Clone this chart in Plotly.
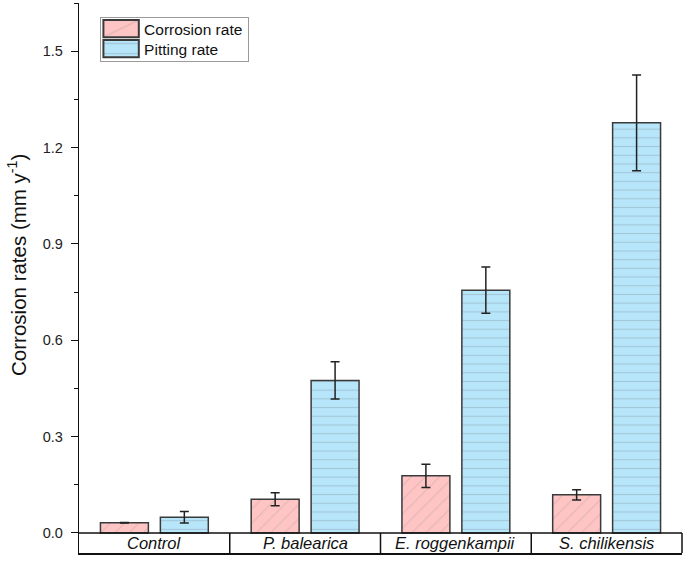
import plotly.graph_objects as go

categories = ["Control", "P. balearica", "E. roggenkampii", "S. chilikensis"]
corrosion_rate = [0.032, 0.105, 0.178, 0.119]
corrosion_err = [0.001, 0.020, 0.036, 0.016]
pitting_rate = [0.049, 0.475, 0.756, 1.277]
pitting_err = [0.018, 0.058, 0.072, 0.149]
y_ticks = [0.0, 0.3, 0.6, 0.9, 1.2, 1.5]
series_names = ["Corrosion rate", "Pitting rate"]

FONT = "Arial, Liberation Sans, sans-serif"
y_min, y_max = -0.0623, 1.65

fig = go.Figure()
fig.add_trace(go.Bar(
    name=series_names[0], x=categories, y=corrosion_rate,
    error_y=dict(type="data", array=corrosion_err, color="#222222", thickness=1.5, width=4.5),
    marker=dict(color="#FFC4C4", line=dict(color="#3a3a3a", width=1.5),
                pattern=dict(shape="/", fillmode="overlay", fgcolor="#bfa6a6", size=10, solidity=0.1)),
))
fig.add_trace(go.Bar(
    name=series_names[1], x=categories, y=pitting_rate,
    error_y=dict(type="data", array=pitting_err, color="#222222", thickness=1.5, width=4.5),
    marker=dict(color="#B7E6FA", line=dict(color="#3a3a3a", width=1.5),
                pattern=dict(shape="-", fillmode="overlay", fgcolor="#8fa8b3", size=8.7, solidity=0.13)),
))

shapes = [
    dict(type="line", xref="paper", yref="y", x0=0, x1=1, y0=0, y1=0,
         line=dict(color="#111111", width=1.5)),
    dict(type="line", xref="paper", yref="y", x0=1, x1=1, y0=y_min, y1=0,
         line=dict(color="#111111", width=1.5)),
]
for i in range(1, len(categories)):
    shapes.append(dict(type="line", xref="x", yref="y", x0=i - 0.5, x1=i - 0.5, y0=y_min, y1=0,
                       line=dict(color="#111111", width=1.5)))

annotations = [
    dict(x=c, y=y_min / 2, xref="x", yref="y", text="<i>%s</i>" % c, showarrow=False,
         font=dict(family=FONT, size=16.5, color="#111111"), xanchor="center", yanchor="middle")
    for c in categories
]
annotations.append(dict(
    x=-0.1026, y=0.524, xref="paper", yref="paper", textangle=-90,
    text="Corrosion rates (mm y<sup>-1</sup>)", showarrow=False,
    font=dict(family=FONT, size=20.5, color="#111111"), xanchor="center", yanchor="middle"))

fig.update_layout(
    width=685, height=563,
    margin=dict(l=79, r=3, t=3, b=10),
    paper_bgcolor="white", plot_bgcolor="white",
    barmode="group", bargap=0.205, bargroupgap=0.2,
    font=dict(family=FONT, size=14, color="#111111"),
    showlegend=True,
    legend=dict(x=0.035, y=0.9745, xanchor="left", yanchor="top",
                bgcolor="white", bordercolor="#9a9a9a", borderwidth=1,
                font=dict(family=FONT, size=15.5, color="#111111"),
                itemsizing="constant", itemwidth=33, tracegroupgap=0),
    shapes=shapes, annotations=annotations,
    xaxis=dict(range=[-0.5, len(categories) - 0.5], showticklabels=False, ticks="",
               showgrid=False, zeroline=False, showline=True, linecolor="#111111", linewidth=1.5),
    yaxis=dict(range=[y_min, y_max], tickvals=y_ticks, tickformat=".1f",
               ticks="outside", ticklen=7, tickwidth=1.3, tickcolor="#111111",
               ticklabelstandoff=5,
               minor=dict(dtick=0.15, tick0=0, ticks="outside", ticklen=4, tickwidth=1.3, tickcolor="#111111"),
               showgrid=False, zeroline=False, showline=True, linecolor="#111111", linewidth=1.3,
               tickfont=dict(family=FONT, size=14.5, color="#222222")),
)

post = """
document.body.style.margin = '0';
var gd = document.getElementById('{plot_id}');
gd.querySelectorAll('.legendpoints path').forEach(function(p){
  var t = p.getAttribute('transform') || '';
  p.setAttribute('transform', t + ' translate(-1.5,0) scale(2.95,1.45)');
  p.style.vectorEffect = 'non-scaling-stroke';
});
var trs = gd.querySelectorAll('.legend .traces');
var y0 = null;
trs.forEach(function(tr, i){
  var m = /translate\\(([-\\d.]+)[ ,]+([-\\d.]+)\\)/.exec(tr.getAttribute('transform') || '');
  if (m) {
    if (y0 === null) { y0 = parseFloat(m[2]) - 6; }
    tr.setAttribute('transform', 'translate(' + m[1] + ',' + (y0 + i * 20) + ')');
  }
});
var bg = gd.querySelector('.legend rect.bg');
if (bg) { bg.setAttribute('height', 44); }
"""

fig.write_html("out.html", post_script=post, config={"displayModeBar": False})
